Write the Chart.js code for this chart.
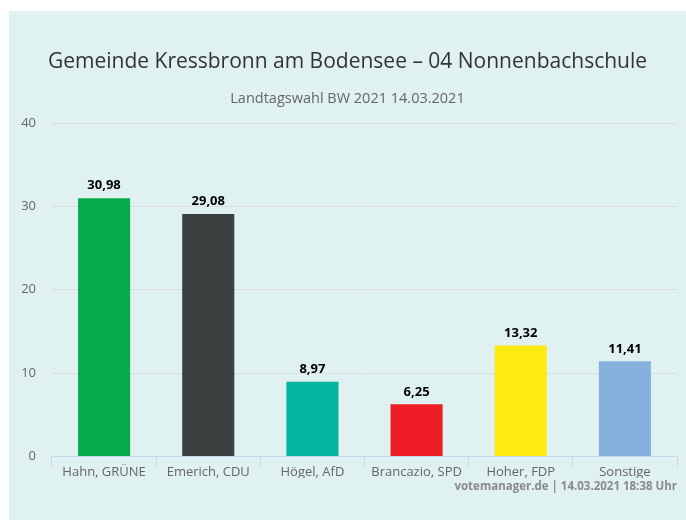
<!DOCTYPE html>
<html>
<head>
<meta charset="utf-8">
<script src="https://cdn.jsdelivr.net/npm/chart.js@4/dist/chart.umd.min.js"></script>
<style>
  html, body { margin: 0; padding: 0; background: #fff; }
  #wrap { position: absolute; left: 9px; top: 11px; width: 677px; height: 509px; background: #dff1f0; }
</style>
</head>
<body>
<div id="wrap"><canvas id="chart"></canvas></div>
<script>
const candidates = ["Hahn, GRÜNE", "Emerich, CDU", "Högel, AfD", "Brancazio, SPD", "Hoher, FDP", "Sonstige"];
const shares = [30.98, 29.08, 8.97, 6.25, 13.32, 11.41];
const partyColors = ["#06ac4b", "#3a4040", "#02b5a1", "#ef1d25", "#ffea10", "#84b1de"];
const yTicks = [0, 10, 20, 30, 40];

const FONT = "'Open Sans', sans-serif";

// labels above bars + credits line
const extras = {
  id: "extras",
  afterDatasetsDraw(chart) {
    const ctx = chart.ctx;
    const meta = chart.getDatasetMeta(0);
    ctx.save();
    ctx.font = "bold 13px " + FONT;
    ctx.fillStyle = "#000";
    ctx.textAlign = "center";
    ctx.textBaseline = "bottom";
    meta.data.forEach((bar, i) => {
      ctx.fillText(shares[i].toFixed(2).replace(".", ","), bar.x, bar.y - 6);
    });
    ctx.font = "bold 11.5px " + FONT;
    ctx.fillStyle = "#8a8a8a";
    ctx.textAlign = "right";
    ctx.textBaseline = "middle";
    ctx.fillText("votemanager.de | 14.03.2021 18:38 Uhr", chart.width - 9, 476);
    ctx.restore();
  }
};

new Chart(document.getElementById("chart"), {
  type: "bar",
  data: {
    labels: candidates,
    datasets: [{
      data: shares,
      backgroundColor: partyColors,
      barPercentage: 0.5,
      categoryPercentage: 1
    }]
  },
  options: {
    responsive: true,
    maintainAspectRatio: false,
    animation: false,
    layout: { padding: { left: 9, right: 9, top: 0, bottom: 42 } },
    plugins: {
      legend: { display: false },
      tooltip: { enabled: false },
      title: {
        display: true,
        text: "Gemeinde Kressbronn am Bodensee – 04 Nonnenbachschule",
        color: "#333",
        font: { family: FONT, size: 21, weight: "normal" },
        padding: { top: 38.5, bottom: 15 }
      },
      subtitle: {
        display: true,
        text: "Landtagswahl BW 2021 14.03.2021",
        color: "#666",
        font: { family: FONT, size: 14.5 },
        padding: { top: 0, bottom: 16 }
      }
    },
    scales: {
      x: {
        grid: { display: true, drawOnChartArea: false, drawTicks: true, tickLength: 10, color: "#ccd6eb", offset: true },
        border: { display: true, color: "#ccd6eb" },
        ticks: { color: "#666", font: { family: FONT, size: 13 }, padding: -2 }
      },
      y: {
        min: 0,
        max: 40,
        afterBuildTicks(scale) { scale.ticks = yTicks.map(v => ({ value: v })); },
        grid: { color: "#dcdcdc", drawTicks: false },
        border: { display: false },
        ticks: { color: "#666", font: { family: FONT, size: 13 }, padding: 16 },
        afterFit(scale) { scale.width = 34; }
      }
    }
  },
  plugins: [extras]
});
</script>
</body>
</html>
